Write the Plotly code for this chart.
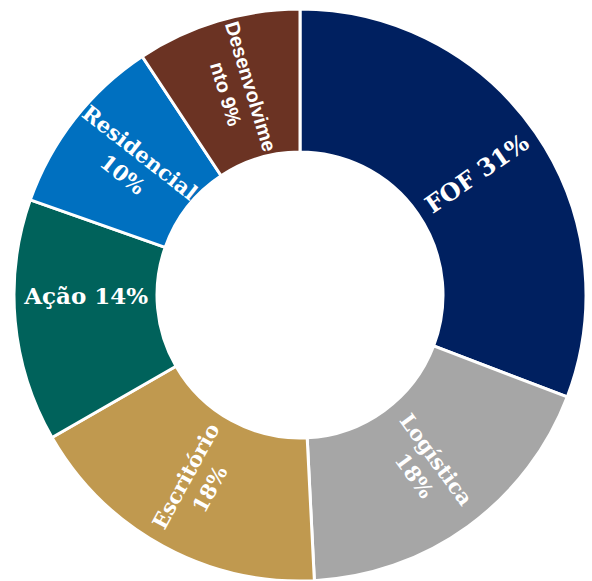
import math
import plotly.graph_objects as go

labels = ["FOF", "Logística", "Escritório", "Ação", "Residencial", "Desenvolvimento"]
values = [30.8, 18.4, 17.5, 13.7, 10.3, 9.3]
texts = ["FOF 31%", "Logística<br>18%", "Escritório<br>18%", "Ação 14%", "Residencial<br>10%", "Desenvolvime<br>nto 9%"]
colors = ["#002060", "#A6A6A6", "#C0994F", "#00625B", "#0070C0", "#6B3323"]
fonts = ["DejaVu Serif", "DejaVu Serif", "DejaVu Serif", "DejaVu Serif", "DejaVu Serif", "Liberation Sans"]
sizes = [24, 21, 21, 23, 22, 20]

W, H = 592, 581
dom_x = [14 / W, 586 / W]
dom_y = [0.0, 572 / H]
hole = 0.5

# FOF label is drawn radially at its slice mid-angle (plotly would force it horizontal)
pie_text = [""] + texts[1:]

fig = go.Figure(go.Pie(
    labels=labels,
    values=values,
    text=pie_text,
    texttemplate="<b>%{text}</b>",
    textinfo="text",
    textposition="inside",
    insidetextorientation="radial",
    sort=False,
    direction="clockwise",
    rotation=0,
    hole=hole,
    marker=dict(colors=colors, line=dict(color="white", width=3)),
    textfont=dict(color="white", size=sizes, family=fonts),
    domain=dict(x=dom_x, y=dom_y),
    showlegend=False,
    hoverinfo="label+percent",
))

# position of FOF label derived from the data (slice mid-angle, ring middle)
total = sum(values)
mid_frac = (values[0] / 2) / total
theta = 2 * math.pi * mid_frac
cx_px = (dom_x[0] + dom_x[1]) / 2 * W
cy_px = (dom_y[0] + dom_y[1]) / 2 * H
R = min((dom_x[1] - dom_x[0]) * W, (dom_y[1] - dom_y[0]) * H) / 2
rr = R * (1 + hole) / 2
ax = (cx_px + rr * math.sin(theta)) / W
ay = (cy_px + rr * math.cos(theta)) / H
angle = -(90 - math.degrees(theta))

fig.add_annotation(
    x=ax, y=ay, xref="paper", yref="paper",
    text="<b>" + texts[0] + "</b>",
    showarrow=False, textangle=angle,
    font=dict(color="white", size=sizes[0], family=fonts[0]),
    xanchor="center", yanchor="middle",
)

fig.update_layout(
    width=W, height=H,
    margin=dict(l=0, r=0, t=0, b=0),
    paper_bgcolor="white",
    plot_bgcolor="white",
)
fig.write_html("out.html", config={"displayModeBar": False},
               post_script="document.body.style.margin='0';")
